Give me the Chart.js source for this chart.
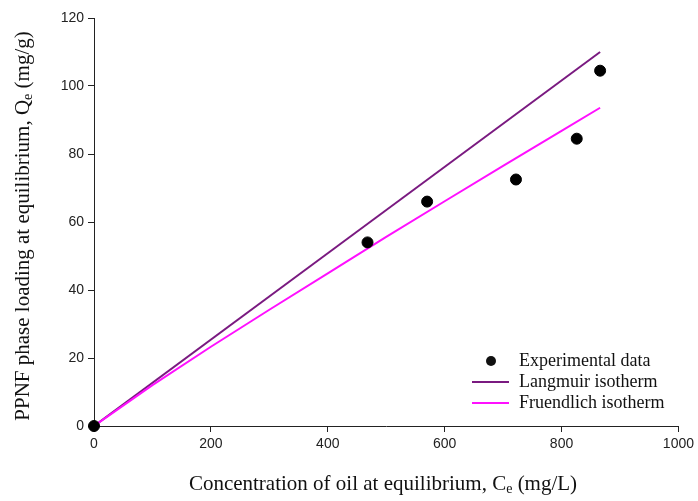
<!DOCTYPE html>
<html>
<head>
<meta charset="utf-8">
<script src="https://cdn.jsdelivr.net/npm/chart.js@4/dist/chart.umd.min.js"></script>
<style>
  html, body { margin: 0; padding: 0; background: #fff; }
  #wrap { width: 698px; height: 501px; position: relative; }
</style>
</head>
<body>
<div id="wrap"><canvas id="chart"></canvas></div>
<script>
// ── Data ──────────────────────────────────────────────────
const expX = [0, 468, 570, 722, 826, 866];
const expY = [0, 54, 66, 72.5, 84.5, 104.5];

const langX = [0, 433, 866];
const langY = [0, 55, 110];

const freuX = [0, 100, 200, 300, 400, 500, 600, 700, 800, 866];
const freuY = [0, 12.0, 23.3, 34.2, 44.9, 55.6, 66.1, 76.5, 86.8, 93.6];

const xTicks = [0, 200, 400, 600, 800, 1000];
const yTicks = [0, 20, 40, 60, 80, 100, 120];

const seriesNames = ["Experimental data", "Langmuir isotherm", "Fruendlich isotherm"];
const LANG_COLOR = "#7a1a80";
const FREU_COLOR = "#ff10ff";
const SERIF = "'Liberation Serif', 'DejaVu Serif', serif";

const toPoints = (xs, ys) => xs.map((x, i) => ({ x, y: ys[i] }));

// ── Axis titles with subscripts + in-plot legend ──────────
function drawSubText(ctx, parts, x, y) {
  const big = `21px ${SERIF}`;
  const small = `14px ${SERIF}`;
  let total = 0;
  parts.forEach(([t, sub]) => { ctx.font = sub ? small : big; total += ctx.measureText(t).width; });
  let cx = x - total / 2;
  parts.forEach(([t, sub]) => {
    ctx.font = sub ? small : big;
    ctx.fillText(t, cx, sub ? y + 5 : y);
    cx += ctx.measureText(t).width;
  });
}

const decorPlugin = {
  id: "decor",
  afterDraw(chart) {
    const { ctx } = chart;
    ctx.save();
    ctx.fillStyle = "#111";
    ctx.textBaseline = "middle";
    ctx.textAlign = "left";
    drawSubText(ctx, [["Concentration of oil at equilibrium, C", false], ["e", true], [" (mg/L)", false]], 383, 484);

    ctx.translate(23, 226);
    ctx.rotate(-Math.PI / 2);
    drawSubText(ctx, [["PPNF phase loading at equilibrium, Q", false], ["e", true], [" (mg/g)", false]], 0, 0);
    ctx.restore();

    // legend
    ctx.save();
    ctx.font = `18px ${SERIF}`;
    ctx.textBaseline = "middle";
    ctx.fillStyle = "#111";
    const lx = 472, tx = 519, rows = [361, 382, 403];
    ctx.beginPath();
    ctx.arc(491, rows[0], 5, 0, Math.PI * 2);
    ctx.fill();
    [[LANG_COLOR, rows[1]], [FREU_COLOR, rows[2]]].forEach(([c, y]) => {
      ctx.strokeStyle = c;
      ctx.lineWidth = 2;
      ctx.beginPath();
      ctx.moveTo(lx, y);
      ctx.lineTo(lx + 37, y);
      ctx.stroke();
    });
    rows.forEach((y, i) => ctx.fillText(seriesNames[i], tx, y));
    ctx.restore();
  }
};

new Chart(document.getElementById("chart"), {
  type: "scatter",
  data: {
    datasets: [
      {
        label: seriesNames[1],
        data: toPoints(langX, langY),
        showLine: true,
        borderColor: LANG_COLOR,
        borderWidth: 2,
        pointRadius: 0,
        order: 2
      },
      {
        label: seriesNames[2],
        data: toPoints(freuX, freuY),
        showLine: true,
        borderColor: FREU_COLOR,
        borderWidth: 2,
        pointRadius: 0,
        order: 1
      },
      {
        label: seriesNames[0],
        data: toPoints(expX, expY),
        backgroundColor: "#000",
        borderColor: "#000",
        pointRadius: 5.5,
        clip: false,
        order: 0
      }
    ]
  },
  options: {
    responsive: true,
    maintainAspectRatio: false,
    animation: false,
    layout: { padding: { top: 18, right: 17, left: 0, bottom: 0 } },
    plugins: { legend: { display: false }, tooltip: { enabled: false } },
    scales: {
      x: {
        type: "linear",
        min: 0, max: 1000,
        afterBuildTicks: (s) => { s.ticks = xTicks.map((v) => ({ value: v })); },
        afterFit: (s) => { s.height = 75; },
        grid: { drawOnChartArea: false, tickLength: 6, color: "#222" },
        border: { color: "#222", width: 1 },
        ticks: {
          color: "#222", padding: 4, maxRotation: 0,
          callback: (v) => String(v),
          font: { family: "'Liberation Sans', Arial, sans-serif", size: 14 }
        }
      },
      y: {
        type: "linear",
        min: 0, max: 120,
        afterBuildTicks: (s) => { s.ticks = yTicks.map((v) => ({ value: v })); },
        afterFit: (s) => { s.width = 94; },
        grid: { drawOnChartArea: false, tickLength: 6, color: "#222" },
        border: { color: "#222", width: 1 },
        ticks: {
          color: "#222", padding: 4,
          callback: (v) => String(v),
          font: { family: "'Liberation Sans', Arial, sans-serif", size: 14 }
        }
      }
    }
  },
  plugins: [decorPlugin]
});
</script>
</body>
</html>
